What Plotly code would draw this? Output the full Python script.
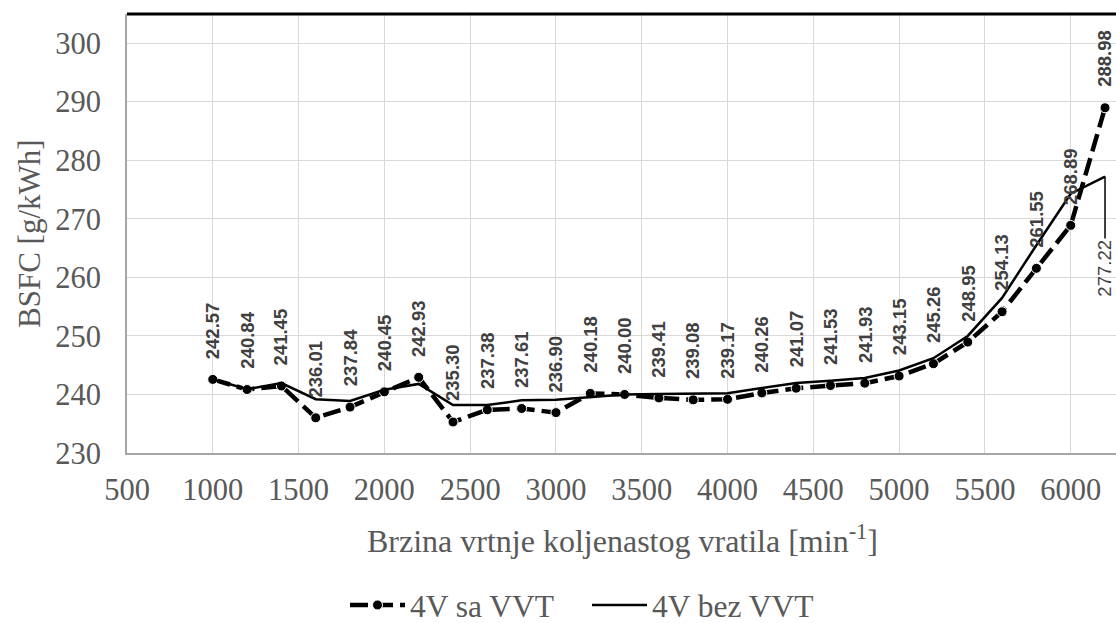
import plotly.graph_objects as go

rpm = [1000, 1200, 1400, 1600, 1800, 2000, 2200, 2400, 2600, 2800, 3000, 3200, 3400, 3600,
       3800, 4000, 4200, 4400, 4600, 4800, 5000, 5200, 5400, 5600, 5800, 6000, 6200]
sa_vvt = [242.57, 240.84, 241.45, 236.01, 237.84, 240.45, 242.93, 235.30, 237.38, 237.61,
          236.90, 240.18, 240.00, 239.41, 239.08, 239.17, 240.26, 241.07, 241.53, 241.93,
          243.15, 245.26, 248.95, 254.13, 261.55, 268.89, 288.98]
bez_vvt = [242.6, 240.9, 241.95, 239.2, 238.9, 240.8, 241.8, 238.2, 238.2, 239.0,
           239.1, 239.6, 240.0, 240.1, 240.1, 240.2, 241.1, 241.95, 242.35, 242.8,
           244.1, 246.2, 250.0, 256.5, 265.5, 274.3, 277.22]

x_ticks = [500, 1000, 1500, 2000, 2500, 3000, 3500, 4000, 4500, 5000, 5500, 6000]
y_ticks = [230, 240, 250, 260, 270, 280, 290, 300]

serif = "Liberation Serif, Times New Roman, serif"
label_font = "Liberation Sans, Arial, sans-serif"
gray = "#595959"

W, H = 1116, 623
ML, MR, MT, MB = 127, 0, 14, 170
plot_w = W - ML - MR
plot_h = H - MT - MB


def px_x(px):
    return (px - ML) / plot_w


def px_y(py):
    return (H - MB - py) / plot_h


fig = go.Figure()
fig.add_trace(go.Scatter(
    x=rpm, y=sa_vvt, name="4V sa VVT", mode="lines+markers",
    line=dict(color="black", width=4.5, dash="18px,7px"),
    marker=dict(symbol="circle", size=10, color="black", line=dict(color="white", width=1)),
))
fig.add_trace(go.Scatter(
    x=rpm, y=bez_vvt, name="4V bez VVT", mode="lines",
    line=dict(color="black", width=2.5),
))

annotations = []
for xv, yv in zip(rpm, sa_vvt):
    annotations.append(dict(
        x=xv, y=yv, xref="x", yref="y", text=f"{yv:.2f}", showarrow=False,
        textangle=-90, yanchor="middle", xanchor="center", yshift=49,
        font=dict(family=label_font, size=18.5, color="#404040", weight="bold"),
    ))
# leader-line label for last value of second series
annotations.append(dict(
    x=rpm[-1], y=bez_vvt[-1], xref="x", yref="y", text=f"{bez_vvt[-1]:.2f}",
    showarrow=True, arrowhead=0, arrowwidth=1.5, arrowcolor="black", ax=0, ay=92,
    textangle=-90, font=dict(family=label_font, size=18.5, color="#404040"),
))
annotations.append(dict(
    x=px_x(622), y=px_y(539), xref="paper", yref="paper",
    text="Brzina vrtnje koljenastog vratila [min<sup>-1</sup>]",
    showarrow=False, xanchor="center", yanchor="middle",
    font=dict(family=serif, size=32, color=gray),
))
annotations.append(dict(
    x=px_x(30), y=px_y(234), xref="paper", yref="paper",
    text="BSFC [g/kWh]", textangle=-90,
    showarrow=False, xanchor="center", yanchor="middle",
    font=dict(family=serif, size=31, color=gray),
))

fig.update_layout(
    width=W, height=H,
    margin=dict(l=ML, r=MR, t=MT, b=MB, autoexpand=False),
    paper_bgcolor="white", plot_bgcolor="white",
    showlegend=True,
    legend=dict(orientation="h", x=px_x(345), xanchor="left", y=px_y(605), yanchor="middle",
                font=dict(family=serif, size=31.5, color=gray), itemwidth=55, entrywidth=172,
                bgcolor="rgba(0,0,0,0)"),
    annotations=annotations,
    xaxis=dict(range=[500, 6264], tickvals=x_ticks, ticktext=[str(v) for v in x_ticks],
               showgrid=True, gridcolor="#d9d9d9", gridwidth=1.3, zeroline=False,
               showline=True, linecolor="#a6a6a6", linewidth=2, automargin=False,
               tickfont=dict(family=serif, size=30.5, color=gray), ticks="", ticklabelstandoff=8),
    yaxis=dict(range=[230, 305], tickvals=y_ticks, ticktext=[str(v) for v in y_ticks],
               showgrid=True, gridcolor="#d9d9d9", gridwidth=1.3, zeroline=False,
               showline=True, linecolor="#a6a6a6", linewidth=2, automargin=False,
               tickfont=dict(family=serif, size=30.5, color=gray), ticks="", ticklabelstandoff=18),
    shapes=[dict(type="line", xref="paper", yref="paper", x0=0, x1=1, y0=1, y1=1,
                 line=dict(color="black", width=3))],
)

fig.write_html("out.html", config={"displayModeBar": False},
               post_script="document.body.style.margin='0';document.body.style.overflow='hidden';")
